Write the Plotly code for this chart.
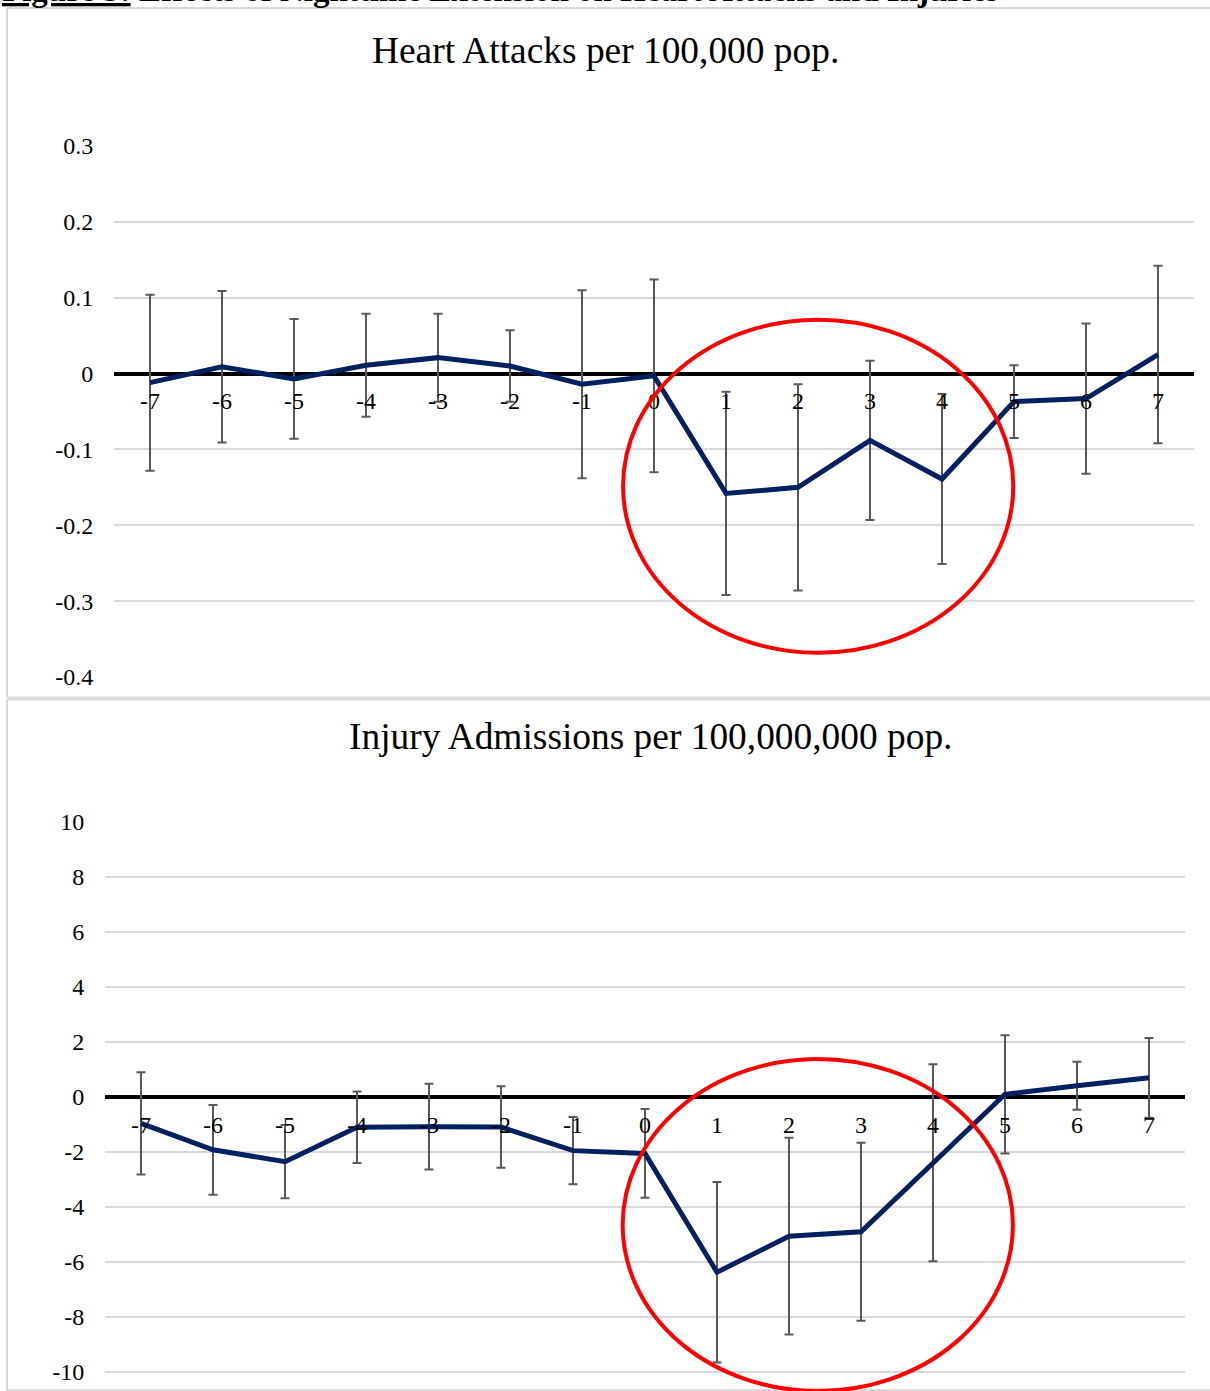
import plotly.graph_objects as go

# ---------------- data ----------------
periods = [-7, -6, -5, -4, -3, -2, -1, 0, 1, 2, 3, 4, 5, 6, 7]
period_labels = ["-7", "-6", "-5", "-4", "-3", "-2", "-1", "0", "1", "2", "3", "4", "5", "6", "7"]

heart = [-0.012, 0.009, -0.007, 0.011, 0.021, 0.010, -0.014, -0.003,
         -0.158, -0.150, -0.088, -0.139, -0.037, -0.033, 0.025]
heart_err = [0.116, 0.100, 0.079, 0.068, 0.058, 0.047, 0.124, 0.127,
             0.134, 0.136, 0.105, 0.112, 0.048, 0.099, 0.117]

injury = [-0.96, -1.92, -2.35, -1.10, -1.08, -1.09, -1.95, -2.05,
          -6.37, -5.06, -4.90, -2.39, 0.10, 0.41, 0.70]
injury_err = [1.86, 1.63, 1.33, 1.30, 1.56, 1.48, 1.22, 1.61,
              3.28, 3.58, 3.24, 3.58, 2.15, 0.87, 1.45]

heart_ticks = [-0.4, -0.3, -0.2, -0.1, 0, 0.1, 0.2, 0.3]
heart_ticktext = ["-0.4", "-0.3", "-0.2", "-0.1", "0", "0.1", "0.2", "0.3"]
injury_ticks = [-10, -8, -6, -4, -2, 0, 2, 4, 6, 8, 10]
injury_ticktext = ["-10", "-8", "-6", "-4", "-2", "0", "2", "4", "6", "8", "10"]

header = "<b><u>Figure 3:</u> Effects of Nighttime Extension on Heart Attacks and Injuries</b>"
title_top = "Heart Attacks per 100,000 pop."
title_bottom = "Injury Admissions per 100,000,000 pop."

# ---------------- layout geometry ----------------
W, H = 1210, 1391
FONT = "Liberation Serif, Times New Roman, serif"
NAVY = "#002060"
ERR = "#595959"
GRID = "#d9d9d9"


def py(px):  # pixel row -> paper y
    return 1 - px / H


def pxx(px):  # pixel col -> paper x
    return px / W


top_range = [-0.4, 0.3]
top_dom = [py(677), py(146)]
bot_range = [-10.69, 10]
bot_dom = [py(1391), py(822)]


def zero_pos(rng, dom):
    return dom[0] + (0 - rng[0]) / (rng[1] - rng[0]) * (dom[1] - dom[0])


fig = go.Figure()

fig.add_trace(go.Scatter(
    x=periods, y=heart, mode="lines",
    line=dict(color=NAVY, width=5),
    error_y=dict(type="data", array=heart_err, visible=True,
                 color=ERR, thickness=2, width=4.5),
    xaxis="x", yaxis="y", showlegend=False, hoverinfo="x+y"))

fig.add_trace(go.Scatter(
    x=periods, y=injury, mode="lines",
    line=dict(color=NAVY, width=5),
    error_y=dict(type="data", array=injury_err, visible=True,
                 color=ERR, thickness=2, width=4.5),
    xaxis="x2", yaxis="y2", showlegend=False, hoverinfo="x+y"))

tickfont = dict(family=FONT, size=24, color="#000000")

xcommon = dict(range=[-7.5, 7.5], tickmode="array", tickvals=periods,
               ticktext=period_labels, showgrid=False, zeroline=False,
               showline=False, ticks="outside", ticklen=6,
               tickcolor="rgba(0,0,0,0)", tickfont=tickfont,
               fixedrange=True, automargin=False)
ycommon = dict(showgrid=True, gridcolor=GRID, gridwidth=1.6,
               zeroline=True, zerolinecolor="#000000", zerolinewidth=4,
               showline=False, ticks="outside", ticklen=15,
               tickcolor="rgba(0,0,0,0)", tickfont=tickfont,
               fixedrange=True, automargin=False)

fig.update_layout(
    width=W, height=H,
    margin=dict(l=0, r=0, t=0, b=0, autoexpand=False),
    paper_bgcolor="white", plot_bgcolor="white",
    font=dict(family=FONT, color="#000000"),
    xaxis=dict(xcommon, domain=[pxx(114), pxx(1194)], anchor="free",
               position=zero_pos(top_range, top_dom)),
    yaxis=dict(ycommon, domain=top_dom, range=top_range, anchor="x",
               tickvals=heart_ticks, ticktext=heart_ticktext),
    xaxis2=dict(xcommon, domain=[pxx(105), pxx(1185)], anchor="free",
                position=zero_pos(bot_range, bot_dom)),
    yaxis2=dict(ycommon, domain=bot_dom, range=bot_range, anchor="x2",
                tickvals=injury_ticks, ticktext=injury_ticktext),
)

# panel frames
frame = dict(color=GRID, width=2)
fig.add_shape(type="line", xref="paper", yref="paper",
              x0=pxx(7), x1=1, y0=py(8), y1=py(8), line=frame)
fig.add_shape(type="line", xref="paper", yref="paper",
              x0=pxx(7), x1=pxx(7), y0=py(8), y1=py(697), line=frame)
fig.add_shape(type="line", xref="paper", yref="paper",
              x0=pxx(7), x1=pxx(7), y0=py(700), y1=0, line=frame)
fig.add_shape(type="line", xref="paper", yref="paper",
              x0=pxx(7), x1=1, y0=py(698.5), y1=py(698.5),
              line=dict(color=GRID, width=4))
fig.add_shape(type="line", xref="paper", yref="paper",
              x0=pxx(7), x1=1, y0=py(1390), y1=py(1390), line=frame)

# red highlight ellipses (in data coordinates)
fig.add_shape(type="circle", xref="x", yref="y",
              x0=-0.43, x1=4.99, y0=-0.368, y1=0.071,
              line=dict(color="#ff0000", width=4), layer="above")
fig.add_shape(type="circle", xref="x2", yref="y2",
              x0=-0.31, x1=5.11, y0=-10.69, y1=1.38,
              line=dict(color="#ff0000", width=4), layer="above")

# titles
fig.add_annotation(text=title_top, xref="paper", yref="paper",
                   x=pxx(605.5), y=py(51), showarrow=False,
                   xanchor="center", yanchor="middle",
                   font=dict(family=FONT, size=37.4, color="#000000"))
fig.add_annotation(text=title_bottom, xref="paper", yref="paper",
                   x=pxx(650.5), y=py(736), showarrow=False,
                   xanchor="center", yanchor="middle",
                   font=dict(family=FONT, size=37.4, color="#000000"))
# cut-off document header above the chart
fig.add_annotation(text=header, xref="paper", yref="paper",
                   x=0, y=1, yshift=-10, showarrow=False,
                   xanchor="left", yanchor="bottom",
                   font=dict(family=FONT, size=33, color="#000000"))

fig.write_html("out.html",
               config={"displayModeBar": False},
               post_script="document.body.style.margin='0';"
                           "document.body.style.overflow='hidden';")
